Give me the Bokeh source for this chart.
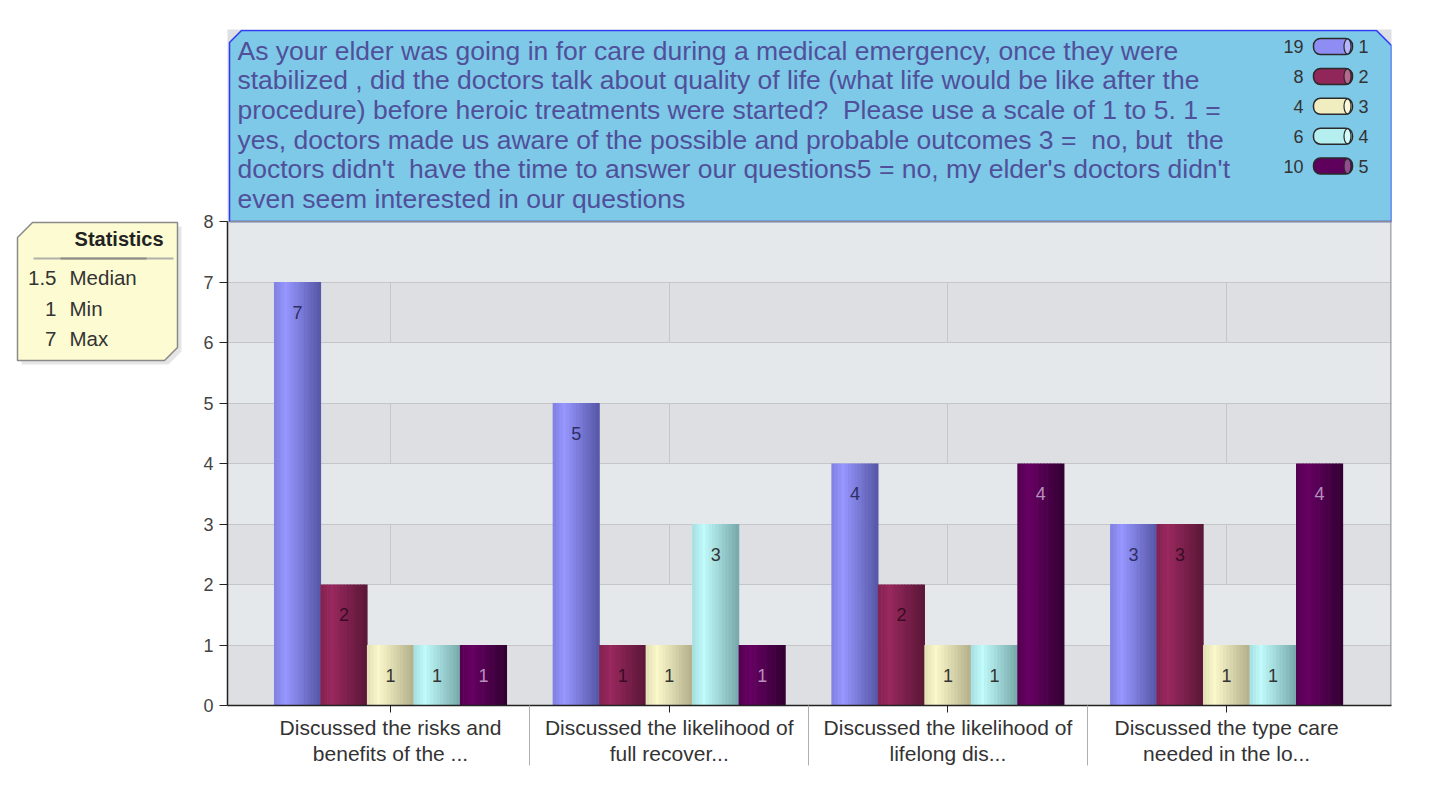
import numpy as np
from bokeh.plotting import figure
from bokeh.models import Range1d, FixedTicker
from bokeh.layouts import row
from bokeh.embed import file_html
from bokeh.resources import INLINE
from bokeh.core.properties import value

# ---------------- data ----------------
categories = [
    "Discussed the risks and\nbenefits of the ...",
    "Discussed the likelihood of\nfull recover...",
    "Discussed the likelihood of\nlifelong dis...",
    "Discussed the type care\nneeded in the lo...",
]
series_names = ["1", "2", "3", "4", "5"]
s1 = [7, 5, 4, 3]
s2 = [2, 1, 2, 3]
s3 = [1, 1, 1, 1]
s4 = [1, 3, 1, 1]
s5 = [1, 1, 4, 4]
y_ticks = [0, 1, 2, 3, 4, 5, 6, 7, 8]
title_lines = [
    "As your elder was going in for care during a medical emergency, once they were",
    "stabilized , did the doctors talk about quality of life (what life would be like after the",
    "procedure) before heroic treatments were started?  Please use a scale of 1 to 5. 1 =",
    "yes, doctors made us aware of the possible and probable outcomes 3 =  no, but  the",
    "doctors didn't  have the time to answer our questions5 = no, my elder's doctors didn't",
    "even seem interested in our questions",
]
stat_names = ["Median", "Min", "Max"]

series = [s1, s2, s3, s4, s5]
all_vals = np.concatenate([np.array(s) for s in series])
stat_vals = [float(np.median(all_vals)), float(all_vals.min()), float(all_vals.max())]
counts = [int(sum(s)) for s in series]

# ---------------- styles ----------------
FONT = value("Liberation Sans")
hi_cols = [(150, 150, 255), (152, 40, 94), (250, 248, 202), (192, 250, 250), (102, 0, 98)]
dk_cols = [(86, 86, 166), (90, 22, 54), (178, 174, 138), (118, 168, 170), (50, 0, 50)]
lab_cols = ["#2e2e66", "#3a0c24", "#333333", "#333333", "#b58fbd"]


def mix(a, b, f):
    f = min(max(f, 0.0), 1.0)
    c = [int(round(a[i] + (b[i] - a[i]) * f)) for i in range(3)]
    return "#%02x%02x%02x" % tuple(c)


def grad(hi, dk, t):
    if t < 0.25:
        return mix(hi, dk, 0.35 * (0.25 - t) / 0.25)
    return mix(hi, dk, (t - 0.25) / 0.75)


def keep_spaces(s):
    return s.replace("  ", " \u00a0")


# page-pixel -> data helpers for decorations
def dx(px):
    return 1 + (px - 390) / 278.7


def dy(py):
    return (705 - py) / 60.5


# ---------------- statistics panel ----------------
H = 790
SW = 183
# frame of this panel is aligned with the main chart frame (page y 29..705)
sf = figure(width=SW, height=H, x_range=Range1d(0, SW), y_range=Range1d(705, 29),
            output_backend="svg", toolbar_location=None, min_border=0,
            min_border_top=29, min_border_bottom=85,
            x_axis_location=None, y_axis_location=None,
            outline_line_color=None, background_fill_color="white",
            border_fill_color="white")
sf.grid.visible = False
bx = np.array([17, 32, 177, 177, 164, 17])
by = np.array([237, 222, 222, 347, 360, 360])
sf.patch(x=bx + 4, y=by + 4, fill_color="#000000", fill_alpha=0.10, line_color=None)
sf.patch(x=bx, y=by, fill_color="#fdfbd2", line_color="#8a8a8a", line_width=1.5)
sf.line(x=[33, 173], y=[258, 258], line_color="#b0b0a8", line_width=2)
sf.line(x=[60, 146], y=[258, 258], line_color="#8c8c86", line_width=2)
sf.text(x=[163], y=[238], text=["Statistics"], text_align="right", text_baseline="middle",
        text_font=FONT, text_font_size="20px", text_font_style="bold", text_color="#222222")
sf.text(x=[56] * 3, y=[277, 308, 338], text=[f"{v:g}" for v in stat_vals],
        text_align="right", text_baseline="middle", text_font=FONT,
        text_font_size="20.5px", text_color="#333333")
sf.text(x=[69] * 3, y=[277, 308, 338], text=stat_names,
        text_align="left", text_baseline="middle", text_font=FONT,
        text_font_size="20.5px", text_color="#333333")

# ---------------- main chart ----------------
p = figure(width=1254, height=H,
           x_range=Range1d(dx(227), dx(1391)), y_range=Range1d(0, dy(29)),
           output_backend="svg", toolbar_location=None,
           min_border_left=44, min_border_right=46, min_border_top=29, min_border_bottom=85,
           background_fill_color="#dedfe2", border_fill_color="white",
           outline_line_color=None)

xs = np.arange(1, len(categories) + 1)
w = 0.1668
N = 14
for si, vals in enumerate(series):
    off = (si - 2) * w
    for k in range(N):
        t = (k + 0.5) / N
        p.vbar(x=xs + off - w / 2 + t * w, top=vals, bottom=0, width=w / N * 1.2,
               fill_color=grad(hi_cols[si], dk_cols[si], t), line_color=None)
    p.text(x=xs + off, y=np.array(vals) - 0.5, text=[str(v) for v in vals],
           text_align="center", text_baseline="middle", text_font=FONT,
           text_font_size="18px", text_color=lab_cols[si])

# right edge of plot area
p.line(x=[dx(1390.5), dx(1390.5)], y=[0, 8], line_color="#9a9a9a", line_width=1.5)

# title box
p.patch(x=[dx(229), dx(229), dx(241), dx(1376), dx(1391), dx(1391)],
        y=[dy(221), dy(42), dy(30), dy(30), dy(45), dy(221)],
        fill_color="#7ec8e8", line_color="#2f3af5", line_width=1.5)
p.line(x=[dx(229), dx(1391)], y=[8, 8], line_color="#8c8c8c", line_width=1.5)
p.text(x=[dx(237)] * len(title_lines), y=[dy(50 + 29.7 * i) for i in range(len(title_lines))],
       text=[keep_spaces(s) for s in title_lines], text_align="left", text_baseline="middle",
       text_font=FONT, text_font_size="26.5px", text_color="#50509a")

# legend in title box
ly = np.array([dy(46 + 29.9 * i) for i in range(len(series_names))])
p.text(x=[dx(1303)] * 5, y=ly, text=[str(c) for c in counts], text_align="right",
       text_baseline="middle", text_font=FONT, text_font_size="18px", text_color="#333333")
p.quad(left=dx(1313), right=dx(1352), top=ly + 8 / 60.5, bottom=ly - 8 / 60.5,
       fill_color=[grad(hi_cols[i], dk_cols[i], 0.35) for i in range(5)],
       line_color="#2a2a2a", line_width=1.5, border_radius=7)
p.ellipse(x=dx(1347), y=ly, width=7, height=15, width_units="screen", height_units="screen",
          fill_color=[mix(hi_cols[i], (255, 255, 255), 0.3) for i in range(5)],
          line_color="#2a2a2a", line_width=1.2)
p.text(x=[dx(1358)] * 5, y=ly, text=series_names, text_align="left",
       text_baseline="middle", text_font=FONT, text_font_size="18px", text_color="#333333")

# axes
p.yaxis.ticker = FixedTicker(ticks=y_ticks)
p.yaxis.bounds = (0, 8)
p.yaxis.major_tick_out = 8
p.yaxis.major_tick_in = 0
p.yaxis.minor_tick_line_color = None
p.yaxis.axis_line_color = "#222222"
p.yaxis.axis_line_width = 1.5
p.yaxis.major_tick_line_color = "#222222"
p.yaxis.major_label_standoff = 6
p.yaxis.major_label_text_font = "Liberation Sans"
p.yaxis.major_label_text_font_size = "18px"
p.yaxis.major_label_text_color = "#444444"

p.xaxis.ticker = FixedTicker(ticks=list(xs), minor_ticks=[1.5, 2.5, 3.5])
p.xaxis.major_label_overrides = {int(i): c for i, c in zip(xs, categories)}
p.xaxis.major_tick_out = 7
p.xaxis.major_tick_in = 0
p.xaxis.minor_tick_out = 60
p.xaxis.minor_tick_in = 0
p.xaxis.minor_tick_line_color = "#b0b0b0"
p.xaxis.axis_line_color = "#222222"
p.xaxis.axis_line_width = 1.5
p.xaxis.major_tick_line_color = "#222222"
p.xaxis.major_label_standoff = 10 - 60
p.xaxis.major_label_text_font = "Liberation Sans"
p.xaxis.major_label_text_font_size = "21px"
p.xaxis.major_label_text_line_height = 1.15
p.xaxis.major_label_text_color = "#333333"

p.xgrid.grid_line_color = "#c6c6ca"
p.ygrid.grid_line_color = "#c6c6ca"
p.ygrid.band_fill_color = "#e5e8eb"
p.ygrid.band_fill_alpha = 1.0

layout = row(sf, p)
open("out.html", "w").write(file_html(layout, INLINE))
